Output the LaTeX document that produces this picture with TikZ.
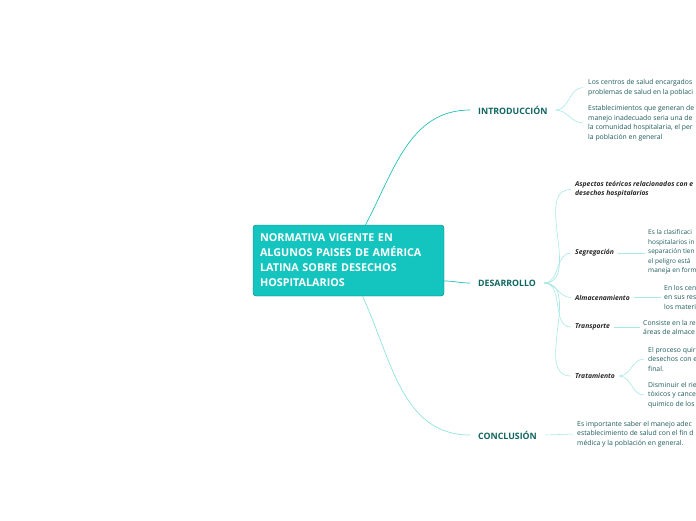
\documentclass[tikz,border=0pt]{standalone}
\usepackage{fontspec}
\setmainfont{Open Sans}
\usepackage{tikz}
\usetikzlibrary{positioning, arrows.meta}
\definecolor{core}{HTML}{14C4BE}
\definecolor{coreline}{HTML}{0D7A75}
\definecolor{branch}{HTML}{22C1BA}
\definecolor{branchsoft}{HTML}{8FE2DD}
\definecolor{twig}{HTML}{A6E8E4}
\definecolor{topic}{HTML}{0F6561}
\definecolor{note}{HTML}{1E5A5A}

\begin{document}
\begin{tikzpicture}[x=1pt,y=-1pt,
  root/.style={draw=coreline,fill=core,rounded corners=3pt,minimum width=191pt,
               minimum height=71pt,text=white,align=left,text width=177pt,
               font=\fontsize{10.8}{15}\selectfont\bfseries},
  topic/.style={text=topic,inner xsep=8pt,inner ysep=2pt,
                font=\fontsize{8.8}{9}\selectfont\bfseries},
  sub/.style={text=black!85,inner xsep=4pt,inner ysep=1pt,align=left,
              font=\fontsize{6.8}{9.4}\selectfont\bfseries\itshape},
  note/.style={text=note,align=left,inner sep=0pt,anchor=west,
               font=\fontsize{6.85}{9.5}\selectfont},
  stem/.style={draw=branch,line width=0.7pt},
  stemsoft/.style={draw=branchsoft,line width=0.7pt},
  twig/.style={draw=twig,line width=0.6pt}]
  \useasboundingbox (0,0) rectangle (696,520);
  \clip (0,0) rectangle (696,520);

  \node[root] (R) at (348.5,260.5) {NORMATIVA VIGENTE EN\\ALGUNOS PAISES DE AMÉRICA\\LATINA SOBRE DESECHOS\\HOSPITALARIOS};

  % main topics
  \node[topic,anchor=west] (In) at (470,110) {INTRODUCCIÓN};
  \node[topic,anchor=west] (De) at (470,283) {DESARROLLO};
  \node[topic,anchor=west] (Co) at (470,435) {CONCLUSIÓN};

  % introduccion
  \node[note] (In1) at (588,87.5) {Los centros de salud encargados\\problemas de salud en la poblaci};
  \node[note] (In2) at (588,123) {Establecimientos que generan de\\manejo inadecuado seria una de\\la comunidad hospitalaria, el per\\la población en general};

  % desarrollo
  \node[sub,anchor=west] (As) at (571,189.5) {Aspectos teóricos relacionados con e\\desechos hospitalarios};
  \node[sub,anchor=west] (Sg) at (571,253) {Segregación};
  \node[sub,anchor=west] (Al) at (571,297.5) {Almacenamiento};
  \node[sub,anchor=west] (Tp) at (571,327) {Transporte};
  \node[sub,anchor=west] (Tr) at (571,376) {Tratamiento};

  \node[note,font=\fontsize{6.5}{9.5}\selectfont] (Sg1) at (648,252) {Es la clasificaci\\hospitalarios in\\separación tien\\el peligro está\\maneja en form};
  \node[note] (Al1) at (664,297) {En los cen\\en sus res\\los materi};
  \node[note] (Tp1) at (643,327.5) {Consiste en la re\\áreas de almace};
  \node[note] (Tr1) at (648,359) {El proceso quir\\desechos con e\\final.};
  \node[note] (Tr2) at (648,395) {Disminuir el rie\\tóxicos y cance\\quimico de los};

  % conclusion
  \node[note] (Co1) at (577,434) {Es importante saber el manejo adec\\establecimiento de salud con el fin d\\médica y la población en general.};

  \path ([xshift=17pt]R.north) edge[stem,out=62,in=180] (In.west)
        ([yshift=-20.5pt]R.east) edge[stem,out=0,in=180] (De.west)
        ([xshift=14pt]R.south) edge[stemsoft,out=-65,in=180] (Co.west);

  \path (In.east) edge[twig,out=0,in=180] ([xshift=-5pt]In1.west)
        (In.east) edge[twig,out=0,in=180] ([xshift=-5pt]In2.west)
        (De.east) edge[twig,out=0,in=180] (As.west)
        (De.east) edge[twig,out=0,in=180] (Sg.west)
        (De.east) edge[twig,out=0,in=180] (Al.west)
        (De.east) edge[twig,out=0,in=180] (Tp.west)
        (De.east) edge[twig,out=0,in=180] (Tr.west)
        (Sg.east) edge[twig] ([xshift=-3pt]Sg1.west |- Sg.east)
        (Al.east) edge[twig] ([xshift=-3pt]Al1.west |- Al.east)
        (Tp.east) edge[twig] ([xshift=-3pt]Tp1.west |- Tp.east)
        (Tr.east) edge[twig,out=0,in=180] ([xshift=-4pt]Tr1.west)
        (Tr.east) edge[twig,out=0,in=180] ([xshift=-4pt]Tr2.west)
        (Co.east) edge[twig] ([xshift=-4pt]Co1.west);
\end{tikzpicture}
\end{document}
